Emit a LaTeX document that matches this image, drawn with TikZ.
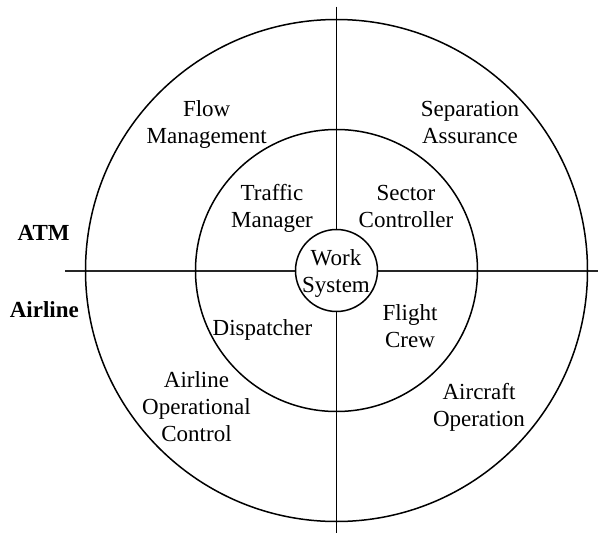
\documentclass[tikz,border=0pt]{standalone}
\usepackage{fontspec}
\setmainfont{Liberation Serif}
\begin{document}
\begin{tikzpicture}[x=1pt,y=-1pt,
  ring/.style={circle,draw,line width=1.5pt,inner sep=0pt},
  axis/.style={line width=1.5pt},
  lbl/.style={align=center,inner sep=0pt,font=\fontsize{23}{27}\selectfont},
  blbl/.style={lbl,font=\fontsize{23}{27}\selectfont\bfseries}]
\useasboundingbox (0,0) rectangle (598,533);
\coordinate (hl) at (65,270.7);
\coordinate (hr) at (598,270.7);
\coordinate (vt) at (336.5,6.7);
\coordinate (vb) at (336.5,533);
\draw[axis,line width=2pt,draw=black!85] (hl) -- (hr);
\draw[axis] (vt) -- (vb);
\node[ring,minimum size=502pt] (outer) at (336.5,270.5) {};
\node[ring,minimum size=282pt] (middle) at (336.5,270.5) {};
\node[ring,minimum size=82pt,fill=white] (inner) at (336.5,270.5) {};
\node[lbl] (work) at (336,273.5) {Work\strut\\System\strut};
\node[lbl] (flow) at (206.7,124.7) {Flow\strut\\Management\strut};
\node[lbl] (sep) at (470,124.7) {Separation\strut\\Assurance\strut};
\node[lbl] (traffic) at (272,208.7) {Traffic\strut\\Manager\strut};
\node[lbl] (sector) at (406,208.7) {Sector\strut\\Controller\strut};
\node[lbl] (disp) at (262.5,329.6) {Dispatcher\strut};
\node[lbl] (crew) at (410,328.8) {Flight\strut\\Crew\strut};
\node[lbl] (aoc) at (196.5,409) {Airline\strut\\Operational\strut\\Control\strut};
\node[lbl] (acop) at (479,407.6) {Aircraft\strut\\Operation\strut};
\node[blbl] (atm) at (43.7,235.3) {ATM\strut};
\node[blbl] (airline) at (44.3,311.9) {Airline\strut};
\end{tikzpicture}
\end{document}
